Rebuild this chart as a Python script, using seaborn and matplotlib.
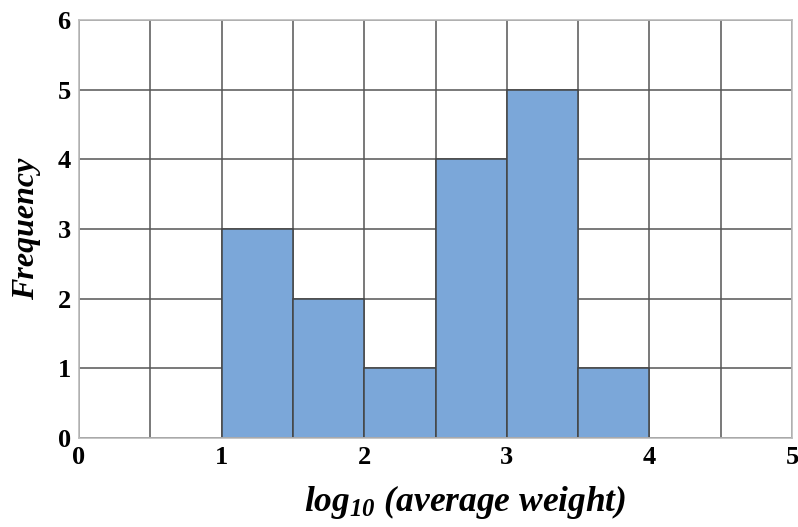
import numpy as np
import matplotlib
matplotlib.use("Agg")
import matplotlib.pyplot as plt
import seaborn as sns

# --- datos ---
bin_edges = [0, 0.5, 1, 1.5, 2, 2.5, 3, 3.5, 4, 4.5, 5]
bin_counts = [0, 0, 3, 2, 1, 4, 5, 1, 0, 0]
x_ticks = [0, 1, 2, 3, 4, 5]
y_ticks = [0, 1, 2, 3, 4, 5, 6]

bin_centers = [(a + b) / 2 for a, b in zip(bin_edges[:-1], bin_edges[1:])]

sns.set_style("white")
plt.rcParams['font.family'] = ['Liberation Serif', 'DejaVu Serif']
plt.rcParams['mathtext.fontset'] = 'custom'
plt.rcParams['mathtext.rm'] = 'Liberation Serif:italic:bold'
plt.rcParams['mathtext.it'] = 'Liberation Serif:italic:bold'
plt.rcParams['text.color'] = 'black'
plt.rcParams['axes.labelcolor'] = 'black'
plt.rcParams['xtick.color'] = 'black'
plt.rcParams['ytick.color'] = 'black'

fig = plt.figure(figsize=(7.98, 5.27), dpi=100)
ax = fig.add_axes([0.099, 0.169, 0.8935, 0.793])

# las barras van encima de la rejilla
ax.set_axisbelow(True)
ax.grid(True, which='both', axis='x', color='#555555', linewidth=1.1)
ax.grid(True, which='major', axis='y', color='#555555', linewidth=1.1)

sns.histplot(x=bin_centers, weights=bin_counts, bins=bin_edges, ax=ax,
             color='#7BA7D9', alpha=1, edgecolor='#444444', linewidth=1.1)

ax.set_xlim(0, 5)
ax.set_ylim(0, 6)
ax.set_xticks(x_ticks)
ax.set_yticks(y_ticks)
ax.set_xticks(np.arange(0, 5.01, 0.5), minor=True)

for s in ax.spines.values():
    s.set_color('#bbbbbb')
    s.set_linewidth(1.2)

ax.tick_params(axis='both', which='major', length=4, color='#bbbbbb',
               labelcolor='black', labelsize=19, pad=2)
ax.tick_params(axis='x', which='minor', length=0)
for lbl in ax.get_xticklabels() + ax.get_yticklabels():
    lbl.set_fontweight('bold')

ax.set_xlabel(r'log$_{10}$ (average weight)', fontsize=25.5, fontweight='bold',
              fontstyle='italic')
ax.xaxis.set_label_coords(0.541, -0.108)
ax.set_ylabel('Frequency', fontsize=23, fontweight='bold', fontstyle='italic',
              labelpad=12)

fig.savefig('out.png', dpi=100)
